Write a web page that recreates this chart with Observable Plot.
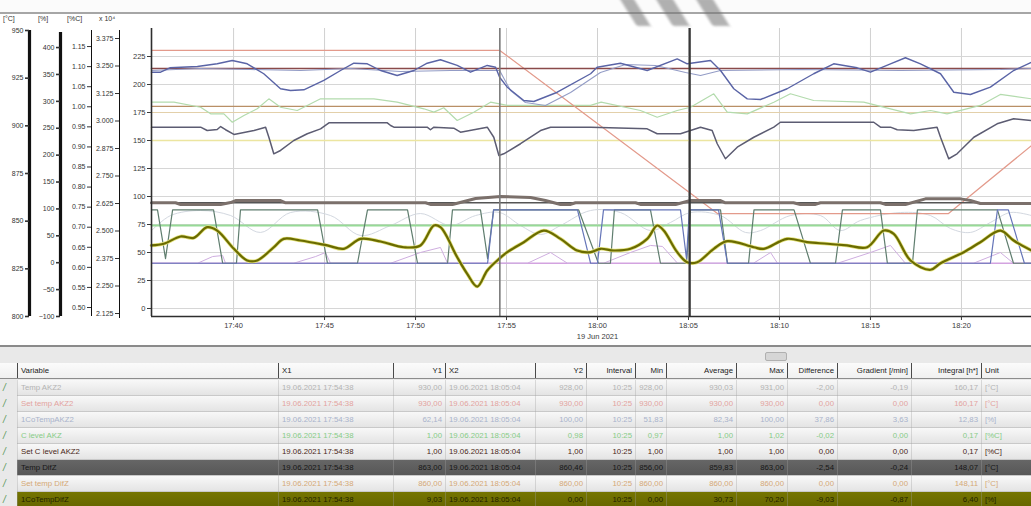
<!DOCTYPE html>
<html>
<head>
<meta charset="utf-8">
<script src="https://cdn.jsdelivr.net/npm/d3@7"></script>
<script src="https://cdn.jsdelivr.net/npm/@observablehq/plot@0.6"></script>
<style>
  html, body { margin: 0; padding: 0; background: #fff; }
  #root { position: relative; width: 1031px; height: 506px; overflow: hidden; background: #fff;
          font-family: "Liberation Sans", Arial, sans-serif; }
  .abs { position: absolute; left: 0; top: 0; }
  .unit { position: absolute; top: 15px; font-size: 7px; color: #333; }
  .cell { position: absolute; top: 0; height: 16px; line-height: 16px; font-size: 7.8px; white-space: nowrap; overflow: hidden; }
  .mark { position: absolute; top: -2px; height: 28px; background: rgba(115,115,115,0.55); transform: skewX(32deg); filter: blur(1.5px); }
</style>
</head>
<body>
<div id="root"></div>
<script>
// ---------------- DATA (minutes after 17:00 on 19 Jun 2021, value on the inner axis) ----------------
const timeStart = 35.49, timeEnd = 83.85;
const cursorTimes = [54.633, 65.067];            // 17:54:38 and 18:05:04
const xTickMinutes = [40, 45, 50, 55, 60, 65, 70, 75, 80];
const yTicks = [0, 25, 50, 75, 100, 125, 150, 175, 200, 225];
const dateLabel = "19 Jun 2021";

const rampSetpoint = [[35.49,230.4],[54.63,230.4],[66.59,84.8],[79.29,84.8],[83.85,145.5]];
const setTempAKZ2 = [[35.49,214.3],[83.85,214.3]];
const tempAKZ2 = [[35.49,211.0],[35.99,211.0],[36.5,214.9],[38.01,216.1],[39.10,218.5],[39.93,221.4],[40.75,218.5],[41.66,209.6],[42.58,196.2],[43.13,194.6],[43.86,195.3],[44.96,203.6],[45.88,212.5],[46.61,219.0],[47.35,218.5],[48.08,212.5],[48.99,208.0],[49.91,212.5],[50.64,219.0],[51.37,222.1],[52.29,217.0],[53.02,211.0],[53.94,217.0],[54.40,215.4],[54.62,206.5],[55.04,197.6],[55.95,185.7],[56.50,184.8],[57.79,193.1],[59.62,209.6],[59.98,215.4],[61.26,219.0],[62.73,212.5],[64.38,222.9],[64.93,218.5],[66.21,221.4],[66.76,212.5],[67.49,196.2],[68.23,187.2],[68.96,186.6],[70.42,196.2],[71.88,209.6],[72.98,218.5],[74.27,214.9],[75.00,211.0],[76.10,218.5],[76.92,223.9],[77.75,218.5],[78.85,209.6],[79.58,193.1],[80.49,191.1],[81.59,197.6],[82.87,212.5],[83.85,219.9]];
const tempAKZ2Zone = [[35.49,212.5],[38.19,214.3],[40.93,213.4],[43.68,212.5],[46.43,214.3],[49.18,211.6],[51.92,212.5],[54.62,212.5],[55.22,194.6],[56.04,183.9],[57.14,181.3],[58.52,192.9],[60.16,210.7],[61.54,217.9],[63.19,217.0],[64.84,210.7],[65.66,208.0],[66.76,212.5],[71.15,213.4],[76.65,212.5],[82.14,213.4],[83.85,214.3]];
const cLevelAKZ = [[35.49,184.2],[36.72,184.2],[38.19,179.7],[38.74,173.8],[39.47,173.8],[39.93,166.3],[40.57,172.3],[41.30,178.3],[41.94,187.2],[42.58,179.7],[43.50,176.8],[44.05,181.3],[44.78,187.2],[47.71,187.2],[48.99,184.2],[50.46,178.3],[51.01,175.3],[51.55,179.2],[52.29,167.9],[53.20,175.3],[54.12,184.2],[55.04,181.3],[59.62,181.3],[60.2,184.2],[62.36,176.8],[63.28,170.8],[64.38,176.8],[65.11,179.7],[66.39,191.7],[67.13,175.3],[68.23,173.8],[69.69,184.2],[70.60,191.7],[71.88,185.7],[74.63,184.2],[76.10,178.3],[77.20,173.8],[78.30,176.8],[79.21,173.8],[81.04,181.3],[82.14,191.1],[83.85,187.2]];
const setCLevelAKZ2 = [[35.49,180.4],[83.85,180.4]];
const cLevelLimit = [[35.49,175.0],[83.85,175.0]];
const coTempAKZ2 = [[35.49,161.9],[38.19,161.9],[38.55,158.9],[39.10,159.8],[39.29,162.5],[39.56,159.6],[40.02,155.4],[41.12,158.9],[41.76,161.9],[41.94,152.9],[42.21,138.1],[42.58,141.1],[43.31,150.0],[44.05,156.0],[44.78,160.4],[45.24,165.8],[48.45,165.8],[48.63,163.4],[48.81,161.9],[50.64,161.9],[50.82,159.6],[51.01,161.9],[52.10,161.0],[52.47,157.4],[53.94,161.9],[54.30,152.9],[54.58,136.6],[54.85,138.1],[55.77,147.1],[56.87,158.9],[57.42,161.9],[59.62,161.9],[62.73,160.4],[63.28,156.0],[64.56,156.0],[65.11,158.9],[65.66,161.9],[66.30,158.9],[66.58,147.1],[67.03,133.7],[67.68,144.0],[68.59,152.9],[69.69,161.9],[70.05,166.3],[75.18,166.3],[75.55,161.9],[76.10,161.9],[76.47,159.6],[77.38,158.9],[78.66,161.9],[78.85,152.9],[79.30,133.7],[79.76,138.1],[80.68,152.9],[81.96,164.9],[82.87,169.4],[83.85,167.9]];
const referenceYellow = [[35.49,150.0],[83.85,150.0]];
const setTempDifZ = [[35.49,94.4],[83.85,94.4]];
const tempDifZ = [[35.49,94.4],[36.81,94.4],[37.09,92.9],[39.29,92.9],[39.84,94.6],[40.11,96.4],[42.58,96.4],[42.86,94.4],[50.55,94.4],[50.82,92.9],[52.03,92.9],[53.30,98.2],[54.67,100.0],[56.32,99.1],[57.14,96.4],[57.97,92.9],[58.52,92.9],[58.79,94.4],[62.09,94.4],[62.36,92.9],[64.29,92.9],[65.11,96.4],[66.76,96.4],[67.03,94.4],[70.77,94.4],[71.15,92.9],[71.98,92.9],[72.25,94.4],[75.55,94.4],[75.82,92.9],[76.92,92.9],[78.02,97.9],[79.95,97.9],[80.49,96.4],[81.04,93.8],[83.85,93.8]];
const cLevelTarget = [[35.49,74.1],[83.85,74.1]];
const zeroPercent = [[35.49,40.4],[83.85,40.4]];
const faintWave = [[35.49,69.6],[36.54,83.0],[38.19,87.5],[39.84,83.0],[41.48,67.9],[43.13,85.7],[45.33,83.0],[46.98,65.2],[48.63,74.1],[50.27,84.8],[51.92,74.1],[53.30,83.0],[54.62,85.7],[55.77,74.1],[56.87,66.1],[57.97,74.1],[59.62,87.5],[61.26,85.7],[62.91,69.6],[64.01,76.8],[65.11,85.7],[66.76,83.0],[68.13,67.9],[68.96,69.6],[70.60,83.0],[72.25,83.0],[73.35,69.6],[74.45,78.6],[76.65,85.7],[78.30,83.0],[79.40,71.4],[80.49,67.9],[81.59,76.8],[82.69,85.7],[83.85,83.0]];
const valvePulses = [[35.49,40.4],[38.02,40.4],[38.85,46.4],[39.40,47.3],[39.56,40.4],[43.30,40.4],[44.51,46.4],[45.05,50.0],[45.33,40.4],[48.63,40.4],[50.27,50.0],[51.37,54.5],[51.76,40.4],[56.15,40.4],[57.42,50.0],[58.35,40.4],[60.33,40.4],[61.81,50.0],[62.91,56.3],[63.57,55.4],[64.40,40.4],[68.57,40.4],[69.51,50.0],[69.89,40.4],[73.19,40.4],[75.00,50.0],[76.10,56.3],[76.92,40.4],[80.66,40.4],[82.14,50.0],[82.86,40.4],[83.85,40.4]];
const burnerA = [[35.49,88.1],[35.82,88.1],[36.26,44.6],[36.65,88.1],[38.90,88.1],[39.40,40.4],[40.16,40.4],[40.38,88.1],[44.62,88.1],[45.16,40.4],[46.81,40.4],[47.36,88.1],[49.56,88.1],[50.11,40.4],[51.76,40.4],[52.03,88.1],[53.57,88.1],[53.96,44.6],[54.29,88.1],[58.96,88.1],[60.05,40.4],[60.71,40.4],[60.93,88.1],[62.91,88.1],[63.46,40.4],[64.89,40.4],[65.11,88.1],[66.76,88.1],[67.14,40.4],[68.3,40.4],[68.6,88.1],[70.8,88.1],[71.7,40.4],[73.08,40.4],[73.46,88.1],[75.55,88.1],[75.93,40.4],[77.31,40.4],[77.58,88.1],[81.98,88.1],[82.86,40.4],[83.85,40.4]];
const burnerB = [[35.49,40.4],[53.96,40.4],[54.29,88.1],[58.90,88.1],[59.62,40.4],[60.00,40.4],[60.33,88.1],[64.56,88.1],[64.89,44.6],[65.05,88.1],[66.65,88.1],[67.14,40.4],[81.59,40.4],[81.98,88.1],[82.58,88.1],[83.46,40.4],[83.85,40.4]];
const coTempDifZ = [[35.49,56.3],[36.17,57.8],[37.09,64.3],[37.82,63.1],[38.55,72.6],[39.10,69.6],[40.02,53.3],[40.75,42.9],[41.30,42.9],[42.21,54.7],[42.76,62.2],[43.68,60.7],[45.15,56.3],[46.06,53.3],[46.98,62.2],[48.08,59.8],[49.36,54.7],[50.27,56.3],[51.01,74.1],[51.37,72.6],[52.29,45.8],[52.84,31.0],[53.39,19.6],[53.94,33.9],[54.49,42.9],[55.04,50.3],[55.95,59.2],[57.05,69.6],[57.97,62.2],[58.88,51.8],[59.62,50.3],[60.16,53.3],[60.90,51.8],[61.81,53.3],[62.73,62.2],[63.28,74.1],[63.64,69.6],[64.38,50.3],[64.93,41.3],[65.48,41.3],[66.39,53.3],[67.13,60.1],[68.59,54.7],[69.14,53.3],[70.42,62.2],[71.52,59.2],[72.62,57.8],[73.71,56.3],[74.82,54.7],[75.73,69.6],[76.28,66.7],[77.20,42.9],[78.30,34.6],[78.85,40.4],[80.13,50.3],[81.04,59.2],[82.14,69.6],[82.87,60.7],[83.85,51.8]];

// side axes (scale extremes)
const axisCelsiusTicks = [800, 825, 850, 875, 900, 925, 950];
const axisPercentTicks = [-100, -50, 0, 50, 100, 150, 200, 250, 300, 350, 400];
const axisCarbonTicks = [0.50, 0.55, 0.60, 0.65, 0.70, 0.75, 0.80, 0.85, 0.90, 0.95, 1.00, 1.05, 1.10, 1.15];
const axisE4Ticks = [2.125, 2.250, 2.375, 2.500, 2.625, 2.750, 2.875, 3.000, 3.125, 3.250, 3.375];
const axisUnits = ["[°C]", "[%]", "[%C]", "x 10⁴"];

// table
const columnHeaders = ["Variable","X1","Y1","X2","Y2","Interval","Min","Average","Max","Difference","Gradient [/min]","Integral [h*]","Unit"];
const variables = ["Temp AKZ2","Set temp AKZ2","1CoTempAKZ2","C level AKZ","Set C level AKZ2","Temp DifZ","Set temp DifZ","1CoTempDifZ"];
const x1Times = Array(8).fill("19.06.2021 17:54:38");
const y1Values = ["930,00","930,00","62,14","1,00","1,00","863,00","860,00","9,03"];
const x2Times = Array(8).fill("19.06.2021 18:05:04");
const y2Values = ["928,00","930,00","100,00","0,98","1,00","860,46","860,00","0,00"];
const intervals = Array(8).fill("10:25");
const mins = ["928,00","930,00","51,83","0,97","1,00","856,00","860,00","0,00"];
const averages = ["930,03","930,00","82,34","1,00","1,00","859,83","860,00","30,73"];
const maxs = ["931,00","930,00","100,00","1,02","1,00","863,00","860,00","70,20"];
const differences = ["-2,00","0,00","37,86","-0,02","0,00","-2,54","0,00","-9,03"];
const gradients = ["-0,19","0,00","3,63","0,00","0,00","-0,24","0,00","-0,87"];
const integrals = ["160,17","160,17","12,83","0,17","0,17","148,07","148,11","6,40"];
const units = ["[°C]","[°C]","[%]","[%C]","[%C]","[°C]","[°C]","[%]"];

// ---------------- STYLES ----------------
const FONT = "Liberation Sans, Arial, sans-serif";
const day = new Date(2021, 5, 19, 17, 0, 0).getTime();
const tm = m => new Date(day + m * 60000);
const xTicks = xTickMinutes.map(tm);
const root = document.getElementById("root");

const seriesStyles = [
  [referenceYellow, "#ece5a0", 1.5, "linear"],
  [cLevelLimit, "#e3d0aa", 1.2, "linear"],
  [setCLevelAKZ2, "#b98f66", 1.2, "linear"],
  [cLevelAKZ, "#b3dbad", 1.2, "linear"],
  [faintWave, "#d3d8e0", 1, "catmull-rom"],
  [rampSetpoint, "#e39a8b", 1.2, "linear"],
  [setTempAKZ2, "#8a4a4a", 1.5, "linear"],
  [tempAKZ2Zone, "#939cc6", 1.1, "linear"],
  [tempAKZ2, "#5a64a6", 1.4, "linear"],
  [coTempAKZ2, "#5c5c72", 1.5, "linear"],
  [cLevelTarget, "#96da96", 2.2, "linear"],
  [zeroPercent, "#d3a3e0", 1.3, "linear"],
  [valvePulses, "#cfaee0", 1, "linear"],
  [burnerA, "#5f7d6e", 1.2, "linear"],
  [burnerB, "#6575b8", 1.2, "linear"],
  [setTempDifZ, "#555555", 1.5, "linear"],
  [tempDifZ, "#7b706b", 3, "linear"],
];

const lineMarks = seriesStyles.map(([data, stroke, sw, curve]) =>
  Plot.line(data, {x: d => tm(d[0]), y: d => d[1], stroke, strokeWidth: sw, curve}));

const main = Plot.plot({
  width: 1031, height: 345,
  marginLeft: 151, marginRight: 0, marginTop: 28, marginBottom: 29,
  style: {background: "transparent", fontFamily: FONT, fontSize: "7.5px", color: "#3a3a3a", overflow: "visible"},
  x: {type: "time", domain: [tm(timeStart), tm(timeEnd)]},
  y: {domain: [-7.14, 250]},
  marks: [
    Plot.gridX(xTicks, {stroke: "#d0d0d0", strokeOpacity: 1}),
    Plot.gridY(yTicks, {stroke: "#d6d6d6", strokeOpacity: 1}),
    ...lineMarks,
    Plot.line(coTempDifZ, {x: d => tm(d[0]), y: d => d[1], stroke: "#e2e07a", strokeWidth: 3.6, curve: "catmull-rom"}),
    Plot.line(coTempDifZ, {x: d => tm(d[0]), y: d => d[1], stroke: "#6a6b00", strokeWidth: 2.2, curve: "catmull-rom"}),
    Plot.ruleX([tm(cursorTimes[0])], {x: d => d, stroke: "#7a7a7a", strokeWidth: 1.6}),
    Plot.ruleX([tm(cursorTimes[1])], {x: d => d, stroke: "#383838", strokeWidth: 2.2}),
    Plot.ruleX([tm(timeStart)], {x: d => d, stroke: "#2e2e2e", strokeWidth: 1.6}),
    Plot.ruleY([-7.14], {stroke: "#2e2e2e", strokeWidth: 1.6}),
    Plot.axisX(xTicks, {tickFormat: d3.timeFormat("%H:%M"), tickSize: 4, tickPadding: 2, fontSize: 7.5}),
    Plot.axisY(yTicks, {tickSize: 4, tickPadding: 2, fontSize: 7.5}),
    Plot.text([tm(60)], {x: d => d, frameAnchor: "bottom", dy: 22, text: () => dateLabel, fontSize: 7.5})
  ]
});
main.classList.add("abs");
root.appendChild(main);

function sideAxis(lineX, domain, range, ticks, fmt, sw) {
  const svg = Plot.plot({
    width: lineX + 4, height: 345,
    marginLeft: lineX, marginRight: 4, marginTop: 0, marginBottom: 0,
    style: {background: "transparent", fontFamily: FONT, fontSize: "7px", color: "#333", overflow: "visible"},
    x: {domain: [0, 1], axis: null},
    y: {domain, range},
    marks: [
      Plot.ruleX([0], {y1: domain[0], y2: domain[1], stroke: "#111", strokeWidth: sw}),
      Plot.axisY(ticks, {tickSize: 4, tickPadding: 2, tickFormat: fmt, fontSize: 7, strokeWidth: sw > 2 ? 1.6 : 1})
    ]
  });
  svg.classList.add("abs");
  root.appendChild(svg);
}
sideAxis(29, [800, 950], [316, 30], axisCelsiusTicks, d3.format("d"), 3.2);
sideAxis(60, [-100, 428], [316, 32], axisPercentTicks, d3.format("d"), 3.2);
sideAxis(91, [0.4776, 1.19], [316, 30], axisCarbonTicks, d3.format(".2f"), 1);
sideAxis(119, [2.1023, 3.4114], [318, 30], axisE4Ticks, d3.format(".3f"), 1);

// unit headers
[3, 38, 67, 99].forEach((x, i) => {
  const s = document.createElement("div");
  s.className = "unit"; s.style.left = x + "px"; s.textContent = axisUnits[i];
  root.appendChild(s);
});

// toolbar strip and the grey slanted marks at the top of the screenshot
const tb = document.createElement("div");
tb.style.cssText = "position:absolute;left:0;top:0;width:1031px;height:12px;background:#fbfbfb;border-bottom:2px solid #a6a6a6;";
root.appendChild(tb);
[[628, 14], [664, 17], [704, 17]].forEach(([l, w]) => {
  const m = document.createElement("div");
  m.className = "mark"; m.style.left = l + "px"; m.style.width = w + "px";
  root.appendChild(m);
});

// ---------------- TABLE ----------------
const layout = [
  [17, 278, "left"], [278, 393, "left"], [393, 445, "right"], [445, 535, "left"], [535, 586, "right"],
  [586, 635, "right"], [635, 666, "right"], [666, 736, "right"], [736, 787, "right"], [787, 837, "right"],
  [837, 911, "right"], [911, 981, "right"], [981, 1031, "left"]
];
const rowLook = [
  {bg: "linear-gradient(#f8f8f8,#e4e4e4)", fg: "#b3b3b3"},
  {bg: "linear-gradient(#f8f8f8,#e4e4e4)", fg: "#e3a39e"},
  {bg: "linear-gradient(#f8f8f8,#e4e4e4)", fg: "#a9b3cb"},
  {bg: "linear-gradient(#f8f8f8,#e4e4e4)", fg: "#86cc86"},
  {bg: "linear-gradient(#f8f8f8,#e4e4e4)", fg: "#4a2818"},
  {bg: "linear-gradient(#666,#575757)", fg: "#161616"},
  {bg: "linear-gradient(#f8f8f8,#e4e4e4)", fg: "#d5a976"},
  {bg: "linear-gradient(#757500,#666600)", fg: "#222200"},
];

const tbl = document.createElement("div");
tbl.style.cssText = "position:absolute;left:0;top:345px;width:1031px;height:161px;background:#e9e9e9;border-top:2px solid #8a8a8a;box-sizing:border-box;";
root.appendChild(tbl);

const btn = document.createElement("div");
btn.style.cssText = "position:absolute;left:765px;top:5px;width:20px;height:7px;background:#d6d6d6;border:1px solid #b0b0b0;border-radius:2px;";
tbl.appendChild(btn);

function makeRow(top, values, look, header) {
  const r = document.createElement("div");
  r.style.cssText = `position:absolute;left:${header ? 0 : 17}px;top:${top}px;width:${header ? 1031 : 1014}px;height:16px;background:${look.bg};border-bottom:1px solid ${header ? "#8c8c8c" : "#c9c9c9"};box-sizing:border-box;`;
  tbl.appendChild(r);
  const off = header ? 0 : 17;
  values.forEach((v, i) => {
    const [l, rr, al] = layout[i];
    const c = document.createElement("div");
    c.className = "cell";
    c.style.left = (l - off) + "px";
    c.style.width = (rr - l) + "px";
    c.style.textAlign = al;
    c.style.boxSizing = "border-box";
    c.style.padding = "0 3px";
    c.style.color = look.fg;
    c.style.borderLeft = header ? "1px solid #4a4a4a" : "1px solid rgba(160,160,160,0.35)";
    if (header) { c.style.height = "15px"; c.style.lineHeight = "16px"; }
    c.textContent = v;
    r.appendChild(c);
  });
  return r;
}
makeRow(16, columnHeaders, {bg: "linear-gradient(#fbfbfb,#f0f0f0)", fg: "#222"}, true);
variables.forEach((name, i) => {
  const vals = [name, x1Times[i], y1Values[i], x2Times[i], y2Values[i], intervals[i], mins[i], averages[i],
                maxs[i], differences[i], gradients[i], integrals[i], units[i]];
  makeRow(33 + i * 16, vals, rowLook[i], false);
  const chk = document.createElement("div");
  chk.style.cssText = `position:absolute;left:3px;top:${33 + i * 16}px;height:16px;line-height:16px;font-size:10px;color:#5e9a5e;font-style:italic;`;
  chk.textContent = "/";
  tbl.appendChild(chk);
});
</script>
</body>
</html>
